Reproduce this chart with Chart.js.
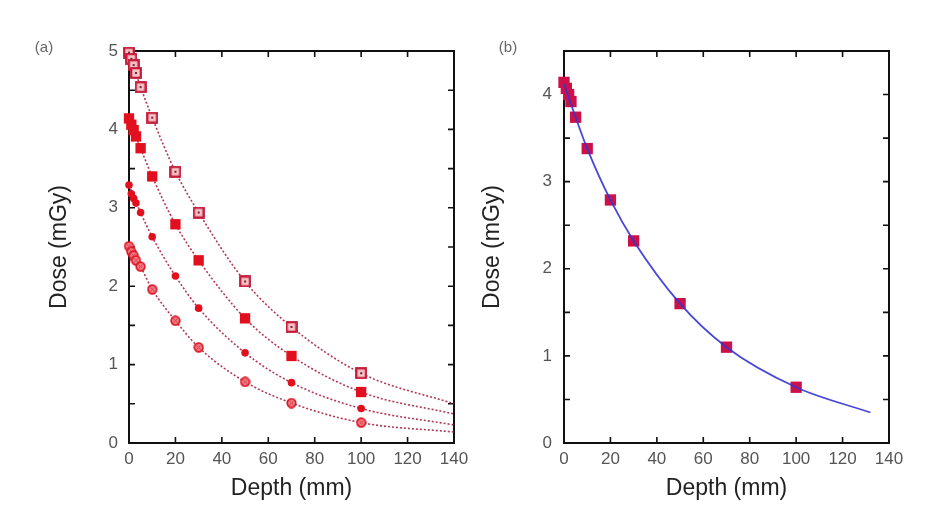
<!DOCTYPE html>
<html>
<head>
<meta charset="utf-8">
<script src="https://cdn.jsdelivr.net/npm/chart.js@4.4.1/dist/chart.umd.min.js"></script>
<style>
  html, body { margin: 0; padding: 0; background: #fff; }
  #wrap { position: relative; width: 945px; height: 518px; }
  canvas { position: absolute; left: 0; top: 0; }
</style>
</head>
<body>
<div id="wrap">
  <canvas id="chartA" width="945" height="518"></canvas>
  <canvas id="chartB" width="945" height="518"></canvas>
</div>
<script>
// measured depths (mm)
const depths = [0, 1, 2, 3, 5, 10, 20, 30, 50, 70, 100];

// panel (a): four dose series, mGy
const doseOpenSquare   = [4.98, 4.90, 4.82, 4.72, 4.54, 4.15, 3.46, 2.94, 2.06, 1.48, 0.89];
const doseFilledSquare = [4.14, 4.06, 3.99, 3.91, 3.76, 3.40, 2.79, 2.33, 1.59, 1.11, 0.65];
const doseFilledCircle = [3.29, 3.18, 3.12, 3.06, 2.94, 2.63, 2.13, 1.72, 1.15, 0.77, 0.44];
const doseOpenCircle   = [2.51, 2.44, 2.39, 2.33, 2.25, 1.96, 1.56, 1.22, 0.78, 0.51, 0.26];

// panel (a): fitted curves
const fitDepthA = [0, 5, 10, 20, 30, 50, 70, 100, 140];
const fitOpenSquare   = [4.98, 4.54, 4.15, 3.46, 2.94, 2.06, 1.48, 0.89, 0.50];
const fitFilledSquare = [4.14, 3.76, 3.40, 2.79, 2.33, 1.59, 1.11, 0.65, 0.37];
const fitFilledCircle = [3.29, 2.94, 2.63, 2.13, 1.72, 1.15, 0.77, 0.44, 0.23];
const fitOpenCircle   = [2.51, 2.25, 1.96, 1.56, 1.22, 0.78, 0.51, 0.26, 0.14];

// panel (b)
const doseB = [4.14, 4.07, 4.00, 3.92, 3.74, 3.38, 2.79, 2.32, 1.60, 1.10, 0.64];
const fitDepthB = [0, 5, 10, 20, 30, 50, 70, 100, 132];
const fitB = [4.12, 3.74, 3.38, 2.79, 2.32, 1.60, 1.10, 0.64, 0.35];

const FONT = "'Liberation Sans', Arial, sans-serif";
const RED = '#e2101e';

const pts = (xs, ys) => xs.map((x, i) => ({ x: x, y: ys[i] }));

// small marker images for the open symbols
function openSquareMarker() {
  const c = document.createElement('canvas');
  c.width = 12; c.height = 12;
  const g = c.getContext('2d');
  g.fillStyle = '#f6c4c8';
  g.fillRect(1, 1, 10, 10);
  g.strokeStyle = '#c41a38';
  g.lineWidth = 2.2;
  g.strokeRect(1.2, 1.2, 9.6, 9.6);
  g.fillStyle = '#7a2030';
  g.fillRect(5, 5, 2, 2);
  return c;
}
function openCircleMarker() {
  const c = document.createElement('canvas');
  c.width = 11; c.height = 11;
  const g = c.getContext('2d');
  g.beginPath();
  g.arc(5.5, 5.5, 4.3, 0, Math.PI * 2);
  g.fillStyle = '#f08088';
  g.fill();
  g.lineWidth = 1.7;
  g.strokeStyle = '#de1424';
  g.stroke();
  g.beginPath();
  g.moveTo(3.5, 3.5); g.lineTo(7.5, 7.5);
  g.moveTo(7.5, 3.5); g.lineTo(3.5, 7.5);
  g.lineWidth = 1;
  g.strokeStyle = '#e23040';
  g.stroke();
  return c;
}

// frame with inward ticks on all four sides, plus the panel letter
const framePlugin = {
  id: 'frame',
  beforeDatasetsDraw(chart, args, opts) {
    const { ctx, chartArea: a, scales } = chart;
    ctx.save();
    ctx.strokeStyle = '#111';
    ctx.lineWidth = 1.6;
    ctx.beginPath();
    scales.x.ticks.forEach(t => {
      const px = scales.x.getPixelForValue(t.value);
      ctx.moveTo(px, a.bottom); ctx.lineTo(px, a.bottom - 6);
      ctx.moveTo(px, a.top); ctx.lineTo(px, a.top + 6);
    });
    scales.y.ticks.forEach(t => {
      const py = scales.y.getPixelForValue(t.value);
      ctx.moveTo(a.left, py); ctx.lineTo(a.left + 6, py);
      ctx.moveTo(a.right, py); ctx.lineTo(a.right - 6, py);
    });
    ctx.stroke();
    ctx.lineWidth = 2;
    ctx.strokeRect(a.left, a.top, a.right - a.left, a.bottom - a.top);
    ctx.fillStyle = '#666';
    ctx.font = '15px ' + FONT;
    ctx.textAlign = 'center';
    ctx.textBaseline = 'middle';
    ctx.fillText(opts.label, opts.labelX, opts.labelY);
    ctx.restore();
  }
};

function axes(yMax, yPad, yWidth) {
  return {
    x: {
      type: 'linear', min: 0, max: 140,
      grid: { display: false, drawTicks: false },
      border: { display: false },
      ticks: { stepSize: 20, autoSkip: false, maxRotation: 0, padding: 6,
               color: '#555', font: { family: FONT, size: 17 } },
      title: { display: true, text: 'Depth (mm)', color: '#222',
               font: { family: FONT, size: 23 }, padding: { top: 0, bottom: 6 } },
      afterFit: s => { s.height = 65; }
    },
    y: {
      type: 'linear', min: 0, max: yMax,
      grid: { display: false, drawTicks: false },
      border: { display: false },
      ticks: { stepSize: 0.5, autoSkip: false, padding: yPad,
               color: '#555', font: { family: FONT, size: 17 },
               callback: v => (v % 1 === 0 ? v : '') },
      title: { display: true, text: 'Dose (mGy)', color: '#222',
               font: { family: FONT, size: 23 }, padding: { top: 6, bottom: 0 } },
      afterFit: s => { s.width = yWidth; }
    }
  };
}

const fitLine = data => ({
  type: 'line', data: data, order: 2,
  borderColor: 'rgba(170,36,66,0.9)', borderWidth: 1.6, borderDash: [2, 2],
  pointRadius: 0, fill: false, cubicInterpolationMode: 'monotone'
});
const markers = (data, style) => Object.assign({
  type: 'line', data: data, order: 1, showLine: false, clip: false
}, style);

new Chart(document.getElementById('chartA'), {
  type: 'line',
  data: {
    datasets: [
      fitLine(pts(fitDepthA, fitOpenSquare)),
      fitLine(pts(fitDepthA, fitFilledSquare)),
      fitLine(pts(fitDepthA, fitFilledCircle)),
      fitLine(pts(fitDepthA, fitOpenCircle)),
      markers(pts(depths, doseOpenSquare), { pointStyle: openSquareMarker() }),
      markers(pts(depths, doseFilledSquare), { pointStyle: 'rect', pointRadius: 7.3,
        pointBackgroundColor: RED, pointBorderColor: RED, pointBorderWidth: 0 }),
      markers(pts(depths, doseFilledCircle), { pointStyle: 'circle', pointRadius: 3.8,
        pointBackgroundColor: RED, pointBorderColor: RED, pointBorderWidth: 0 }),
      markers(pts(depths, doseOpenCircle), { pointStyle: openCircleMarker() })
    ]
  },
  options: {
    responsive: false,
    animation: false,
    layout: { padding: { left: 40, right: 491, top: 51, bottom: 10 } },
    scales: axes(5, 11, 89),
    plugins: {
      legend: { display: false },
      tooltip: { enabled: false },
      frame: { label: '(a)', labelX: 44, labelY: 48 }
    }
  },
  plugins: [framePlugin]
});

new Chart(document.getElementById('chartB'), {
  type: 'line',
  data: {
    datasets: [
      { type: 'line', data: pts(fitDepthB, fitB), order: 1,
        borderColor: 'rgba(52,52,212,0.9)', borderWidth: 1.8, pointRadius: 0, fill: false,
        cubicInterpolationMode: 'monotone' },
      markers(pts(depths, doseB), { order: 2, pointStyle: 'rect', pointRadius: 8,
        pointBackgroundColor: '#cc1048', pointBorderColor: '#cc1048', pointBorderWidth: 0 })
    ]
  },
  options: {
    responsive: false,
    animation: false,
    layout: { padding: { left: 473, right: 56, top: 51, bottom: 10 } },
    scales: axes(4.5, 12, 91),
    plugins: {
      legend: { display: false },
      tooltip: { enabled: false },
      frame: { label: '(b)', labelX: 508, labelY: 48 }
    }
  },
  plugins: [framePlugin]
});
</script>
</body>
</html>
